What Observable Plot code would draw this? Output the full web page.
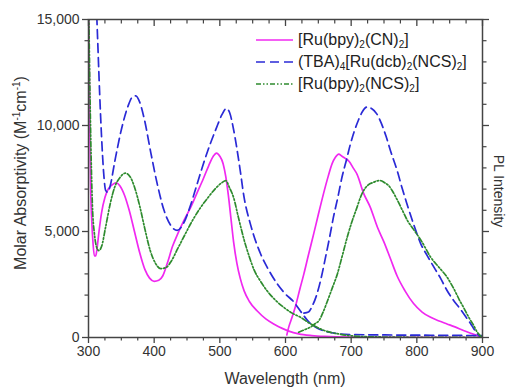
<!DOCTYPE html>
<html><head><meta charset="utf-8">
<script src="https://cdn.jsdelivr.net/npm/d3@7"></script>
<script src="https://cdn.jsdelivr.net/npm/@observablehq/plot@0.6"></script>
<style>
body{margin:0;background:#fff;}
#wrap{position:relative;width:508px;height:388px;overflow:hidden;font-family:"Liberation Sans",Arial,sans-serif;color:#333;}
.lab{position:absolute;white-space:nowrap;transform-origin:center center;}
.row{position:absolute;left:256px;height:20px;display:flex;align-items:center;font-size:16px;color:#222;white-space:nowrap;}
.row svg{margin-right:5px;}
sub{font-size:10px;vertical-align:-3px;line-height:0;}
sup{font-size:10px;vertical-align:6px;line-height:0;}
</style></head><body><div id="wrap"></div>
<script>
// ---- data (wavelength nm, molar absorptivity / scaled PL) ----
const cnAbs = [[300,16500],[301,13000],[302,10000],[303,7500],[305,5500],[307,4400],[309,3850],[311,3850],[313,4200],[316,5000],[320,5900],[325,6600],[330,7000],[336,7200],[342,7300],[348,7150],[355,6700],[362,6000],[370,5000],[378,4000],[386,3200],[393,2800],[400,2650],[407,2700],[413,2900],[420,3500],[428,4300],[436,4900],[445,5500],[455,6100],[465,6800],[475,7500],[483,8100],[490,8550],[495,8700],[500,8550],[505,8200],[509,7600],[513,6700],[517,5600],[521,4500],[526,3500],[531,2800],[537,2200],[545,1700],[557,1250],[570,880],[582,640],[595,430],[605,300],[620,170],[640,90],[660,50],[700,20],[800,5],[900,0]];
const cnPL = [[602,120],[605,500],[610,950],[615,1450],[622,2300],[628,3000],[635,3900],[643,4900],[650,5800],[658,6800],[665,7600],[671,8200],[676,8500],[681,8650],[686,8550],[691,8450],[697,8300],[703,8000],[709,7700],[719,6800],[729,6150],[740,5200],[750,4500],[760,3700],[770,2900],[782,2200],[795,1600],[808,1200],[821,950],[834,780],[846,640],[858,500],[871,330],[882,200],[892,90],[900,0]];
const tbaAbs = [[311,16500],[314,14000],[317,11500],[320,9400],[323,7800],[326,6950],[329,6850],[333,7150],[340,8300],[350,9800],[360,10900],[367,11350],[372,11400],[378,11100],[385,10300],[395,8700],[405,7200],[415,6000],[425,5300],[435,5050],[445,5400],[455,6200],[465,7200],[475,8200],[485,9100],[495,9900],[503,10500],[510,10800],[515,10600],[521,9800],[530,8100],[537,6600],[547,5300],[562,3950],[575,3150],[587,2550],[600,2050],[612,1700],[625,1150],[635,750],[648,450],[665,260],[680,180],[700,140],[750,120],[800,110],[850,100],[900,90]];
const tbaPL = [[628,1150],[635,1200],[641,1500],[648,2060],[655,2900],[661,3790],[667,4700],[673,5675],[680,6650],[686,7560],[693,8400],[699,9140],[705,9750],[711,10250],[717,10650],[724,10870],[731,10800],[739,10550],[746,10100],[753,9500],[760,8800],[770,7880],[778,7000],[785,6300],[795,5350],[806,4420],[816,3850],[826,3320],[836,2800],[846,2217],[856,1750],[866,1350],[874,1000],[882,650],[888,350],[894,100],[900,0]];
const ncsAbs = [[300,16500],[302,12000],[304,8500],[306,6200],[309,4900],[312,4300],[316,4100],[320,4300],[326,5200],[333,6300],[340,7100],[348,7550],[356,7750],[363,7600],[370,7100],[378,6200],[386,5100],[394,4100],[402,3500],[410,3250],[418,3300],[426,3600],[436,4200],[446,4800],[458,5500],[470,6100],[482,6600],[494,7050],[503,7300],[509,7400],[515,7050],[521,6600],[528,5700],[537,4600],[545,3800],[552,3200],[562,2650],[572,2200],[585,1750],[597,1430],[610,1150],[623,950],[635,700],[648,480],[660,320],[672,220],[684,150],[700,80],[720,40],[800,10],[900,0]];
const ncsPL = [[620,250],[630,380],[638,490],[645,650],[651,800],[658,1250],[666,1900],[672,2400],[679,3000],[686,3800],[694,4730],[701,5450],[709,6150],[714,6600],[719,6930],[726,7200],[734,7320],[740,7390],[745,7400],[751,7300],[757,7170],[763,6900],[770,6500],[778,6000],[786,5500],[795,5100],[808,4500],[821,3790],[834,3300],[846,2845],[858,2200],[866,1700],[871,1430],[880,900],[886,600],[892,250],[900,0]];

const seriesNames = ["[Ru(bpy)<sub>2</sub>(CN)<sub>2</sub>]", "(TBA)<sub>4</sub>[Ru(dcb)<sub>2</sub>(NCS)<sub>2</sub>]", "[Ru(bpy)<sub>2</sub>(NCS)<sub>2</sub>]"];
const seriesColors = ["#f028f0", "#2a2ad6", "#2e8b2e"];
const seriesDash = [null, "9,5", "5,2,1.5,2,1.5,2"];
const seriesCurves = [[cnAbs, cnPL], [tbaAbs, tbaPL], [ncsAbs, ncsPL]];

const xMajor = [300, 400, 500, 600, 700, 800, 900];
const xMinor = d3.range(325, 900, 25).filter(v => v % 100 !== 0);
const yMajor = [0, 5000, 10000, 15000];
const yMinor = d3.range(1000, 15000, 1000).filter(v => v % 5000 !== 0);

const axisColor = "#444";
const blank = () => "";

const lineMarks = [];
seriesCurves.forEach((curves, i) => {
  curves.forEach(c => {
    lineMarks.push(Plot.line(c, {x: d => d[0], y: d => d[1], stroke: seriesColors[i], strokeWidth: 1.7,
      strokeDasharray: seriesDash[i] || undefined, curve: "monotone-x", clip: true}));
  });
});

const chart = Plot.plot({
  width: 508, height: 388,
  marginLeft: 88, marginRight: 26, marginTop: 19, marginBottom: 51,
  style: {fontFamily: '"Liberation Sans", Arial, sans-serif', fontSize: "14px", color: "#333", background: "#fff"},
  x: {domain: [300, 900]},
  y: {domain: [0, 15000]},
  marks: [
    ...lineMarks,
    Plot.frame({stroke: axisColor, strokeWidth: 1.5}),
    Plot.axisX({ticks: xMajor, tickSize: 6, tickPadding: 3, tickFormat: d => String(d), label: null, stroke: axisColor, strokeWidth: 1.3}),
    Plot.axisX({ticks: xMinor, tickSize: 3.5, tickFormat: blank, label: null, stroke: axisColor, strokeWidth: 1.2}),
    Plot.axisX({anchor: "top", ticks: xMajor, tickSize: -6, tickFormat: blank, label: null, stroke: axisColor, strokeWidth: 1.3}),
    Plot.axisX({anchor: "top", ticks: xMinor, tickSize: -3.5, tickFormat: blank, label: null, stroke: axisColor, strokeWidth: 1.2}),
    Plot.axisY({ticks: yMajor, tickSize: 6, tickPadding: 3, tickFormat: d3.format(","), label: null, stroke: axisColor, strokeWidth: 1.3}),
    Plot.axisY({ticks: yMinor, tickSize: 3.5, tickFormat: blank, label: null, stroke: axisColor, strokeWidth: 1.2}),
    Plot.axisY({anchor: "right", ticks: yMajor, tickSize: 6, tickFormat: blank, label: null, stroke: axisColor, strokeWidth: 1.3}),
    Plot.axisY({anchor: "right", ticks: yMinor, tickSize: 3.5, tickFormat: blank, label: null, stroke: axisColor, strokeWidth: 1.2})
  ]
});

const wrap = document.getElementById("wrap");
wrap.appendChild(chart);

function addLabel(html, cx, cy, rot, size) {
  const d = document.createElement("div");
  d.className = "lab";
  d.innerHTML = html;
  d.style.fontSize = size + "px";
  d.style.left = cx + "px";
  d.style.top = cy + "px";
  d.style.transform = `translate(-50%,-50%) rotate(${rot}deg)`;
  wrap.appendChild(d);
}
addLabel("Wavelength (nm)", 285, 379, 0, 16);
addLabel("Molar Absorptivity (M<sup>-1</sup>cm<sup>-1</sup>)", 21, 173, -90, 16);
addLabel("PL Intensity", 499, 191, 90, 14);

seriesNames.forEach((name, i) => {
  const r = document.createElement("div");
  r.className = "row";
  r.style.top = (30 + i * 22) + "px";
  const dash = seriesDash[i] ? `stroke-dasharray="${seriesDash[i]}"` : "";
  r.innerHTML = `<svg width="37" height="10"><line x1="0" y1="5" x2="37" y2="5" stroke="${seriesColors[i]}" stroke-width="1.7" ${dash}/></svg><span>${name}</span>`;
  wrap.appendChild(r);
});
</script></body></html>
